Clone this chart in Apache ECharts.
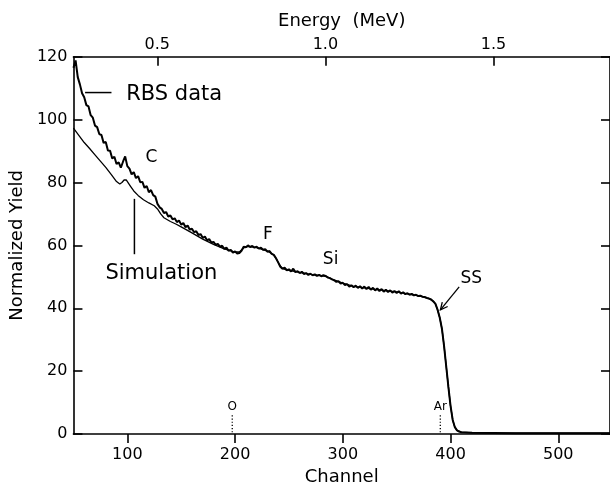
<!DOCTYPE html>
<html>
<head>
<meta charset="utf-8">
<script src="https://cdn.jsdelivr.net/npm/echarts@6/dist/echarts.min.js"></script>
<style>
  html, body { margin: 0; padding: 0; background: #fff; }
  #chart { width: 610px; height: 491px; }
</style>
</head>
<body>
<div id="chart"></div>
<script>
// Tick values for the three scales
const channelTicks = [100, 200, 300, 400, 500];
const energyTicks = [0.5, 1.0, 1.5];

// Measured RBS spectrum: [channel, normalized yield]
const rbsData = [
  [50,116.5],[52,118.8],[54,113.5],[56,111.2],[58,108.4],[60,107.1],[62,104.6],[64,104.2],
  [66,101.4],[68,100.6],[70,98.1],[72,97.6],[74,95.4],[76,95.1],[78,92.6],[80,92.9],
  [82,90.2],[84,90.1],[86,87.6],[88,88.2],[90,85.9],[92,86.4],[94,84.7],[96,86.6],
  [98,88.3],[100,85.2],[102,84.4],[104,82.6],[106,83.3],[108,81.4],[110,82.0],[112,80.1],
  [114,80.2],[116,78.3],[118,78.9],[120,76.9],[122,77.6],[124,76.0],[126,75.5],[128,73.2],
  [130,72.1],[132,71.6],[134,70.3],[136,70.6],[138,69.2],[140,69.5],[142,68.3],[144,68.6],
  [146,67.4],[148,67.9],[150,66.6],[152,67.1],[154,65.8],[156,66.3],[158,65.0],[160,65.3],
  [162,64.2],[164,64.5],[166,63.3],[168,63.6],[170,62.4],[172,62.8],[174,61.6],[176,62.0],
  [178,60.9],[180,61.1],[182,60.2],[184,60.5],[186,59.6],[188,59.9],[190,58.9],[192,59.3],
  [194,58.3],[196,58.6],[198,57.7],[200,58.1],[202,57.4],[204,57.6],[206,58.3],[208,59.6],
  [210,59.4],[212,60.0],[214,59.5],[216,59.8],[218,59.3],[220,59.6],[222,59.0],[224,59.3],
  [226,58.6],[228,58.8],[230,58.0],[232,58.2],[234,57.3],[236,57.0],[238,55.9],[240,54.6],
  [242,53.2],[244,52.6],[246,52.9],[248,52.1],[250,52.4],[252,51.7],[254,52.6],[256,51.5],
  [258,51.8],[260,51.2],[262,51.6],[264,50.9],[266,51.2],[268,50.6],[270,51.0],[272,50.5],
  [274,50.8],[276,50.3],[278,50.6],[280,50.2],[282,50.5],[284,50.3],[286,49.8],[288,49.6],
  [290,49.2],[292,48.9],[294,48.4],[296,48.6],[298,47.9],[300,48.1],[302,47.4],[304,47.7],
  [306,46.9],[308,47.3],[310,46.7],[312,47.2],[314,46.5],[316,47.0],[318,46.3],[320,46.9],
  [322,46.1],[324,46.8],[326,45.9],[328,46.5],[330,45.7],[332,46.3],[334,45.5],[336,46.1],
  [338,45.3],[340,45.9],[342,45.2],[344,45.7],[346,45.0],[348,45.5],[350,44.9],[352,45.4],
  [354,44.7],[356,45.1],[358,44.5],[360,44.8],[362,44.3],[364,44.6],[366,44.1],[368,44.3],
  [370,43.9],[372,44.0],[374,43.7],[376,43.6],[378,43.3],[380,43.1],[382,42.8],[384,42.2],
  [386,41.4],[388,39.5],[390,37.0],[392,33.5],[394,28.0],[396,21.5],[398,15.0],[400,9.0],
  [402,4.5],[404,2.2],[406,1.2],[408,0.8],[410,0.6],[420,0.4],[440,0.35],[460,0.3],
  [480,0.3],[500,0.3],[520,0.3],[548,0.3]
];

// Simulated spectrum: [channel, normalized yield]
const simData = [
  [50,97.3],[55,95.0],[60,92.7],[65,90.8],[70,88.8],[75,86.8],[80,84.8],[85,82.6],
  [90,80.3],[93,79.5],[95,80.0],[97,80.8],[99,80.8],[101,79.8],[103,78.8],[106,77.3],
  [110,75.9],[115,74.5],[120,73.5],[125,72.6],[128,71.6],[131,70.0],[134,68.8],[140,67.6],
  [145,66.8],[150,65.9],[160,64.0],[170,62.0],[180,60.3],[190,58.9],[200,57.9],[204,57.9],
  [208,59.2],[212,59.7],[220,59.3],[230,58.2],[235,57.2],[238,55.9],[241,54.0],[244,52.6],
  [250,52.1],[260,51.4],[270,50.8],[280,50.4],[285,50.1],[290,49.3],[300,48.0],[310,47.0],
  [320,46.5],[330,46.0],[340,45.6],[350,45.2],[360,44.6],[370,44.0],[380,43.1],[384,42.3],
  [386,41.4],[388,39.5],[390,37.0],[392,33.5],[394,28.0],[396,21.5],[398,15.0],[400,9.0],
  [402,4.5],[404,2.2],[406,1.2],[410,0.6],[420,0.4],[548,0.3]
];

// Surface-edge markers for light elements
const edgeNames = ['O', 'Ar'];
const edgeChannels = [197.4, 390.5];

// Element / feature labels on the spectrum
const featureNames = ['C', 'F', 'Si', 'SS'];

const FONT = 'DejaVu Sans';
const BLACK = '#000';

const chart = echarts.init(document.getElementById('chart'), null, { renderer: 'canvas' });

const tickStyle = { color: BLACK, width: 1.6 };
const labelStyle = { fontFamily: FONT, fontSize: 16, color: BLACK };
const nameStyle = { fontFamily: FONT, fontSize: 18, color: BLACK };

chart.setOption({
  animation: false,
  backgroundColor: '#fff',
  grid: { left: 71.7, right: -4.2, top: 56.7, bottom: 49.3, containLabel: false },
  xAxis: [
    {
      type: 'value', position: 'bottom', min: 50, max: 548,
      axisLine: { show: true, onZero: false, lineStyle: tickStyle },
      axisTick: { show: true, inside: false, length: 9, customValues: channelTicks, lineStyle: tickStyle },
      axisLabel: Object.assign({ customValues: channelTicks, margin: 13 }, labelStyle),
      splitLine: { show: false },
      name: 'Channel', nameLocation: 'middle', nameGap: 28, nameTextStyle: nameStyle
    },
    {
      type: 'value', position: 'top', min: 0.2506, max: 1.8468,
      axisLine: { show: true, onZero: false, lineStyle: tickStyle },
      axisTick: { show: true, inside: true, length: 9, customValues: energyTicks, lineStyle: tickStyle },
      axisLabel: Object.assign({ customValues: energyTicks, margin: 4,
        formatter: v => v.toFixed(1) }, labelStyle),
      splitLine: { show: false },
      name: 'Energy  (MeV)', nameLocation: 'middle', nameGap: 26, nameTextStyle: nameStyle
    }
  ],
  yAxis: [
    {
      type: 'value', position: 'left', min: 0, max: 120, interval: 20,
      axisLine: { show: true, onZero: false, lineStyle: tickStyle },
      axisTick: { show: true, inside: true, length: 9, lineStyle: tickStyle },
      axisLabel: Object.assign({ margin: 6 }, labelStyle),
      splitLine: { show: false },
      name: 'Normalized Yield', nameLocation: 'middle', nameGap: 38, nameRotate: 90,
      nameTextStyle: nameStyle
    },
    {
      type: 'value', position: 'right', min: 0, max: 120, interval: 20,
      axisLine: { show: true, onZero: false, lineStyle: tickStyle },
      axisTick: { show: true, inside: true, length: 9, lineStyle: tickStyle },
      axisLabel: { show: false },
      splitLine: { show: false }
    }
  ],
  series: [
    {
      name: 'Simulation', type: 'line', xAxisIndex: 0, yAxisIndex: 0,
      data: simData, showSymbol: false, symbol: 'none',
      lineStyle: { color: BLACK, width: 1.3 }, z: 2
    },
    {
      name: 'RBS data', type: 'line', xAxisIndex: 0, yAxisIndex: 0,
      data: rbsData, showSymbol: false, symbol: 'none',
      lineStyle: { color: BLACK, width: 2 }, z: 3
    }
  ]
});

// Annotation layout, in channel / yield coordinates
const featureAnchors = { C: [122.5, 87.8], F: [230.5, 63.4], Si: [288.7, 55.6], SS: [419.3, 49.4] };
const legendText = [
  { text: 'RBS data', at: [99.0, 108.0], lead: [[60.8, 108.6], [85.3, 108.6]] },
  { text: 'Simulation', at: [79.7, 51.0], lead: [[106.6, 74.8], [106.6, 57.2]] }
];
const ssArrow = [[408, 46.8], [390.6, 39.5]];
const edgeLabelY = 8.8, edgeTopY = 6.0, edgeBottomY = 0.6;

const toPx = p => chart.convertToPixel({ xAxisIndex: 0, yAxisIndex: 0 }, p);

function textEl(str, p, size, align) {
  const [x, y] = toPx(p);
  return {
    type: 'text', x: x, y: y, z: 100,
    style: { text: str, fill: BLACK, fontFamily: FONT, fontSize: size,
      align: align, verticalAlign: 'middle', textAlign: align, textVerticalAlign: 'middle' }
  };
}
function lineEl(a, b, width, dash) {
  const p1 = toPx(a), p2 = toPx(b);
  return {
    type: 'line', z: 100,
    shape: { x1: p1[0], y1: p1[1], x2: p2[0], y2: p2[1] },
    style: { stroke: BLACK, lineWidth: width, lineDash: dash || null }
  };
}

const graphics = [];
featureNames.forEach(n => graphics.push(textEl(n, featureAnchors[n], 17, 'center')));
legendText.forEach(l => {
  graphics.push(textEl(l.text, l.at, 21, 'left'));
  graphics.push(lineEl(l.lead[0], l.lead[1], 1.5));
});
// SS arrow with open head
graphics.push(lineEl(ssArrow[0], ssArrow[1], 1.3));
(function () {
  const a = toPx(ssArrow[0]), b = toPx(ssArrow[1]);
  const ang = Math.atan2(b[1] - a[1], b[0] - a[0]);
  const L = 8, spread = 0.45;
  graphics.push({
    type: 'polyline', z: 100,
    shape: { points: [
      [b[0] - L * Math.cos(ang - spread), b[1] - L * Math.sin(ang - spread)],
      [b[0], b[1]],
      [b[0] - L * Math.cos(ang + spread), b[1] - L * Math.sin(ang + spread)]
    ] },
    style: { stroke: BLACK, lineWidth: 1.3, fill: null }
  });
})();
// Surface-edge markers
edgeNames.forEach((n, i) => {
  const ch = edgeChannels[i];
  graphics.push(textEl(n, [ch, edgeLabelY], 12, 'center'));
  graphics.push(lineEl([ch, edgeTopY], [ch, edgeBottomY], 1.3, [1.2, 2]));
});

chart.setOption({ graphic: graphics });
</script>
</body>
</html>
